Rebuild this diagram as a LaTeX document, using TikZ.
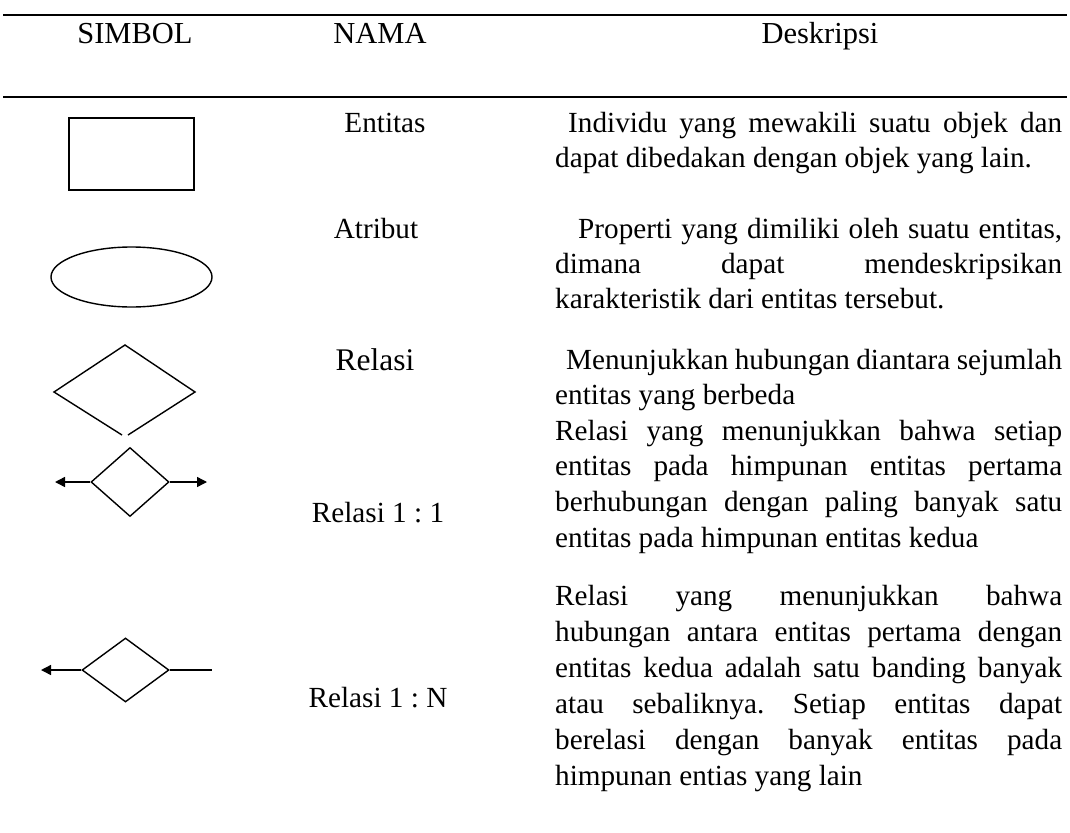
\documentclass[tikz,border=0pt]{standalone}
\usepackage{fontspec}
\setmainfont{Liberation Serif}
\usetikzlibrary{shapes.geometric,arrows.meta}
% a line of text spread to a fixed width
\newcommand\jline[2]{\makebox[#1pt][s]{#2}}
\tikzset{
  rulerow/.style={line width=1.8pt},
  head/.style={anchor=mid, inner sep=0pt, font=\fontsize{30.5}{36}\selectfont},
  namecell/.style={anchor=mid, inner sep=0pt, font=\fontsize{29.2}{36}\selectfont},
  desc/.style={anchor=mid west, inner sep=0pt, font=\fontsize{29.2}{36}\selectfont},
  sym/.style={draw, line width=1.4pt, inner sep=0pt},
  conn/.style={line width=1.4pt},
  tip/.style={-{Triangle[length=10pt,width=10pt]}}
}
\begin{document}
\frenchspacing
\begin{tikzpicture}[x=1pt,y=-1pt]
\useasboundingbox (0,0) rectangle (1070,832);

% table rules
\coordinate (r1a) at (3,15);   \coordinate (r1b) at (1067,15);
\coordinate (r2a) at (3,97);   \coordinate (r2b) at (1067,97);
\draw[rulerow] (r1a) -- (r1b);
\draw[rulerow] (r2a) -- (r2b);

% header
\node[head] (hSimbol) at (135,41) {SIMBOL};
\node[head] (hNama)   at (380,41) {NAMA};
\node[head] (hDesk)   at (820,41) {Deskripsi};

% symbols
\node[sym, rectangle, minimum width=125pt, minimum height=72pt] (entitas) at (131.5,154) {};
\node[sym, ellipse, minimum width=161pt, minimum height=60pt] (atribut) at (131.5,277) {};
\draw[conn, line join=miter] (122,435) -- (54,392) -- (125,345) -- (195,392) -- (128,435);

\node[sym, diamond, minimum width=78pt, minimum height=69pt] (d11) at (130,482) {};
\coordinate (d11l) at (55,482);
\coordinate (d11r) at (207,482);
\draw[conn, tip] (d11.west) -- (d11l);
\draw[conn, tip] (d11.east) -- (d11r);

\node[sym, diamond, minimum width=87pt, minimum height=64pt] (d1n) at (125.5,670) {};
\coordinate (d1nl) at (41,670);
\coordinate (d1nr) at (212,670);
\draw[conn, tip] (d1n.west) -- (d1nl);
\draw[conn] (d1n.east) -- (d1nr);

% names
\node[namecell] (nEnt) at (385,130) {Entitas};
\node[namecell] (nAtr) at (376,236) {Atribut};
\node[namecell, font=\fontsize{31.5}{36}\selectfont] (nRel) at (375,368) {Relasi};
\node[namecell] (nR11) at (378,520) {Relasi 1 : 1};
\node[namecell] (nR1N) at (378,705) {Relasi 1 : N};

% descriptions
\node[desc] (e1) at (568,130) {\jline{494}{Individu yang mewakili suatu objek dan}};
\node[desc] (e2) at (555,165) {dapat dibedakan dengan objek yang lain.};

\node[desc] (a1) at (578,236) {\jline{484}{Properti yang dimiliki oleh suatu entitas,}};
\node[desc] (a2) at (555,271) {\jline{507}{dimana dapat mendeskripsikan}};
\node[desc] (a3) at (555,306) {karakteristik dari entitas tersebut.};

\node[desc] (r1) at (566,367) {\jline{496}{Menunjukkan hubungan diantara sejumlah}};
\node[desc] (r2) at (555,402) {entitas yang berbeda};

\node[desc] (s1) at (555,438) {\jline{507}{Relasi yang menunjukkan bahwa setiap}};
\node[desc] (s2) at (555,473) {\jline{507}{entitas pada himpunan entitas pertama}};
\node[desc] (s3) at (555,509) {\jline{507}{berhubungan dengan paling banyak satu}};
\node[desc] (s4) at (555,545) {entitas pada himpunan entitas kedua};

\node[desc] (m1) at (555,603) {\jline{507}{Relasi yang menunjukkan bahwa}};
\node[desc] (m2) at (555,639) {\jline{507}{hubungan antara entitas pertama dengan}};
\node[desc] (m3) at (555,675) {\jline{507}{entitas kedua adalah satu banding banyak}};
\node[desc] (m4) at (555,711) {\jline{507}{atau sebaliknya. Setiap entitas dapat}};
\node[desc] (m5) at (555,747) {\jline{507}{berelasi dengan banyak entitas pada}};
\node[desc] (m6) at (555,783) {himpunan entias yang lain};
\end{tikzpicture}
\end{document}
